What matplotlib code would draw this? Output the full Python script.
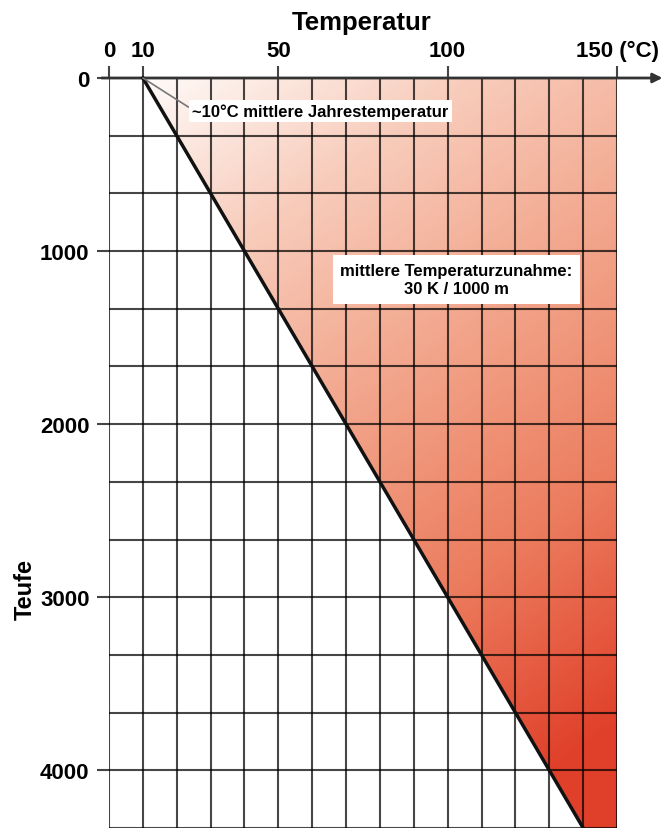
import numpy as np
import matplotlib
matplotlib.use("Agg")
import matplotlib.pyplot as plt
from matplotlib.colors import LinearSegmentedColormap
from matplotlib.patches import Polygon

plt.rcParams['font.family'] = ['Liberation Sans', 'DejaVu Sans']
plt.rcParams['font.weight'] = 'bold'

# data
surface_temp = 10          # ~10 °C mittlere Jahrestemperatur
gradient = 30              # K / 1000 m
depths = [0, 4333]
temps = [10, 140]
x_ticks = [0, 10, 50, 100, 150]
x_labels = ['0', '10', '50', '100', '150 (°C)']
y_ticks = [0, 1000, 2000, 3000, 4000]
x_max = 150
y_max = 4333

fig = plt.figure(figsize=(6.65, 8.29), dpi=100)
ax = fig.add_axes([109/665, 0, (617-109)/665, (829-79)/829])
ax.set_xlim(0, x_max)
ax.set_ylim(y_max, 0)

# gradient fill between line and 150 °C
cmap = LinearSegmentedColormap.from_list(
    'heat', ['#ffffff', '#f8ccbb', '#f2a48a', '#ec7c5e', '#e0402a'])
gx, gy = np.meshgrid(np.linspace(0, 1, 200), np.linspace(0, 1, 300))
t = np.clip(0.35 * gx + 0.75 * gy, 0, 1)
img = ax.imshow(t, cmap=cmap, extent=(0, x_max, y_max, 0), aspect='auto',
                vmin=0, vmax=1, zorder=0, interpolation='bilinear')
poly = Polygon([(temps[0], depths[0]), (x_max, 0), (x_max, y_max),
                (temps[1], depths[1])], closed=True, transform=ax.transData)
img.set_clip_path(poly)

# grid
ax.set_xticks(x_ticks)
ax.set_xticklabels(x_labels)
ax.set_xticks(np.arange(0, x_max + 1, 10), minor=True)
ax.set_yticks(y_ticks)
ax.set_yticks(np.arange(0, y_max + 1, 1000/3), minor=True)
ax.grid(True, which='both', color='black', alpha=0.72, lw=1.5, zorder=1)
ax.set_axisbelow(False)
ax.xaxis.tick_top()
ax.tick_params(axis='both', which='major', length=9, width=1.5, color='#444444',
               labelsize=16)
ax.tick_params(axis='x', which='major', pad=3)
ax.tick_params(axis='y', which='major', pad=5)
ax.tick_params(axis='both', which='minor', length=0)
for s in ax.spines.values():
    s.set_visible(False)

# top axis with arrow
ax.annotate('', xy=(1.095, 1.0), xytext=(-0.02, 1.0), xycoords='axes fraction',
            arrowprops=dict(arrowstyle='-|>', color='#333333', lw=2,
                            mutation_scale=14), annotation_clip=False)

# temperature line
ax.plot(temps, depths, color='#111111', lw=2.5, zorder=3, clip_on=False)

# annotations
ax.annotate('~10°C mittlere Jahrestemperatur', xy=(10, 0), xytext=(24.5, 190),
            fontsize=12, va='center', ha='left',
            bbox=dict(boxstyle='square,pad=0.2', fc='white', ec='none'),
            arrowprops=dict(arrowstyle='-', color='#777777', lw=1.2,
                            shrinkA=0, shrinkB=0, relpos=(0, 0.6)), zorder=4)
ax.text(102.5, 1165, 'mittlere Temperaturzunahme:\n30 K / 1000 m', fontsize=12,
        ha='center', va='center', linespacing=1.3,
        bbox=dict(boxstyle='square,pad=0.45', fc='white', ec='none'), zorder=4)

fig.text(362/665, 1 - 23/829, 'Temperatur', fontsize=18.5, ha='center', va='center')
fig.text(25/665, 1 - 590/829, 'Teufe', fontsize=17, ha='center', va='center',
         rotation=90)

fig.savefig('out.png', dpi=100)
